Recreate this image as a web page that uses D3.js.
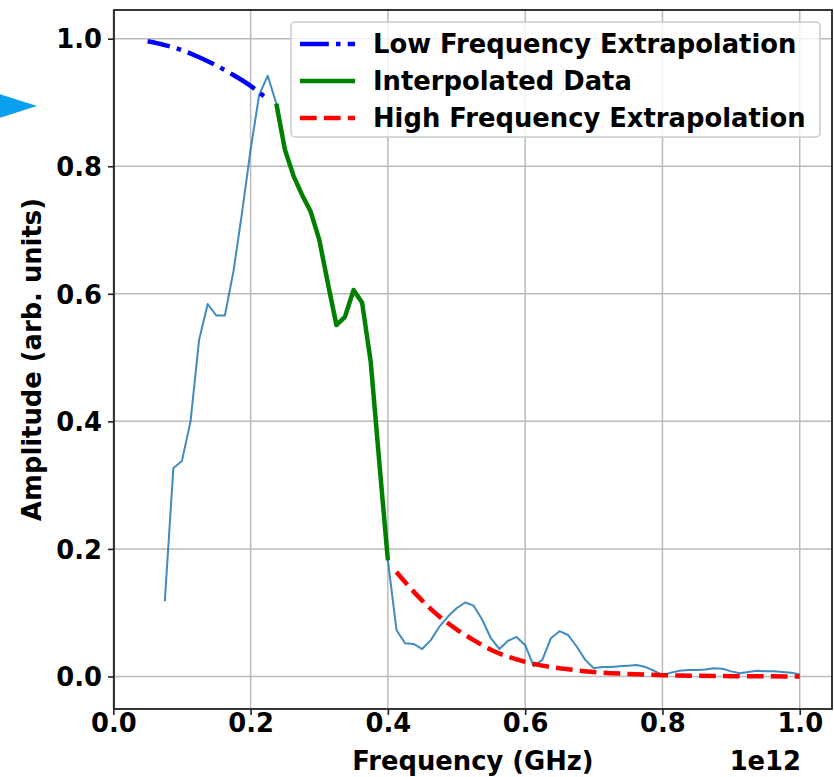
<!DOCTYPE html>
<html>
<head>
<meta charset="utf-8">
<title>Amplitude vs Frequency</title>
<script src="https://cdn.jsdelivr.net/npm/d3@7"></script>
<style>
  body { margin: 0; background: #fff; }
  svg { display: block; font-family: "DejaVu Sans", sans-serif; font-weight: bold; }
</style>
</head>
<body>
<div id="container"></div>
<script>
// frequencies are in units of 1e12 Hz (shown with the "1e12" offset label)
var measFreq = [0.075, 0.0875, 0.1, 0.1125, 0.125, 0.1375, 0.15, 0.1625, 0.175, 0.1875,
                0.2, 0.2125, 0.225, 0.2375, 0.25, 0.2625, 0.275, 0.2875, 0.3, 0.3125,
                0.325, 0.3375, 0.35, 0.3625, 0.375, 0.3875, 0.4, 0.4125, 0.425, 0.4375,
                0.45, 0.4625, 0.475, 0.4875, 0.5, 0.5125, 0.525, 0.5375, 0.55, 0.5625,
                0.575, 0.5875, 0.6, 0.6125, 0.625, 0.6375, 0.65, 0.6625, 0.675, 0.6875,
                0.7, 0.7125, 0.725, 0.7375, 0.75, 0.7625, 0.775, 0.7875, 0.8, 0.8125,
                0.825, 0.8375, 0.85, 0.8625, 0.875, 0.8875, 0.9, 0.9125, 0.925, 0.9375,
                0.95, 0.9625, 0.975, 0.9875, 1.0]
var measAmp = [0.118, 0.327, 0.338, 0.400, 0.528, 0.584, 0.566, 0.566, 0.635, 0.727,
               0.826, 0.912, 0.942, 0.898, 0.826, 0.785, 0.755, 0.729, 0.685, 0.617,
               0.551, 0.564, 0.606, 0.586, 0.493, 0.336, 0.182, 0.073, 0.052, 0.051,
               0.043, 0.057, 0.078, 0.094, 0.107, 0.116, 0.111, 0.089, 0.060, 0.043,
               0.056, 0.062, 0.049, 0.016, 0.026, 0.060, 0.071, 0.065, 0.047, 0.026,
               0.013, 0.015, 0.015, 0.016, 0.017, 0.018, 0.015, 0.009, 0.002, 0.006,
               0.009, 0.010, 0.010, 0.011, 0.013, 0.012, 0.008, 0.005, 0.007, 0.009,
               0.008, 0.008, 0.007, 0.006, 0.003]

var lowFreq = [0.05, 0.075, 0.1, 0.125, 0.15, 0.175, 0.2, 0.2225]
var lowAmp  = [0.996, 0.990, 0.982, 0.971, 0.958, 0.943, 0.926, 0.907]

var interpFreq = [0.2375, 0.25, 0.2625, 0.275, 0.2875, 0.3, 0.3125, 0.325, 0.3375,
                  0.35, 0.3625, 0.375, 0.3875, 0.4]
var interpAmp  = [0.898, 0.826, 0.785, 0.755, 0.729, 0.685, 0.617, 0.551, 0.564,
                  0.606, 0.586, 0.493, 0.336, 0.182]

var highFreq = [0.4125, 0.425, 0.45, 0.475, 0.5, 0.525, 0.55, 0.575, 0.6, 0.625,
                0.65, 0.7, 0.75, 0.8, 0.85, 0.9, 0.95, 1.0]
var highAmp  = [0.164, 0.148, 0.119, 0.094, 0.074, 0.057, 0.042, 0.031, 0.023, 0.017,
                0.013, 0.007, 0.004, 0.002, 0.001, 0.0005, 0.0002, 0.0]

var xTicks = [0.0, 0.2, 0.4, 0.6, 0.8, 1.0]
var yTicks = [0.0, 0.2, 0.4, 0.6, 0.8, 1.0]
var legendLabels = ["Low Frequency Extrapolation", "Interpolated Data", "High Frequency Extrapolation"]

var W = 834, H = 777
var mLeft = 114, mRight = 832, mTop = 10, mBottom = 709
var fs = 25.8

var svg = d3.select("#container").append("svg")
    .attr("width", W).attr("height", H)

var x = d3.scaleLinear().domain([0.001, 1.047]).range([mLeft, mRight])
var y = d3.scaleLinear().domain([-0.051, 1.045]).range([mBottom, mTop])

function pts(f, a) { return f.map(function(d, i) { return [d, a[i]] }) }

// decorative pointer at left edge
svg.append("path")
    .attr("d", "M-10,91L37,106L-10,121Z")
    .attr("fill", "#0b9ff0")

svg.append("clipPath").attr("id", "plot")
  .append("rect").attr("x", mLeft).attr("y", mTop)
    .attr("width", mRight - mLeft).attr("height", mBottom - mTop)

// grid
var grid = svg.append("g").attr("stroke", "#b0b0b0").attr("stroke-width", 1.5).attr("opacity", 0.85)
grid.selectAll(".gx").data(xTicks).enter().append("line")
    .attr("x1", function(d) { return x(d) }).attr("x2", function(d) { return x(d) })
    .attr("y1", mTop).attr("y2", mBottom)
grid.selectAll(".gy").data(yTicks).enter().append("line")
    .attr("y1", function(d) { return y(d) }).attr("y2", function(d) { return y(d) })
    .attr("x1", mLeft).attr("x2", mRight)

var line = d3.line().x(function(d) { return x(d[0]) }).y(function(d) { return y(d[1]) })
var smooth = d3.line().curve(d3.curveMonotoneX)
    .x(function(d) { return x(d[0]) }).y(function(d) { return y(d[1]) })

var plot = svg.append("g").attr("clip-path", "url(#plot)").attr("fill", "none")

plot.append("path").attr("d", line(pts(measFreq, measAmp)))
    .attr("stroke", "#1f77b4").attr("stroke-opacity", 0.85).attr("stroke-width", 2)
    .attr("stroke-linejoin", "round")

var styles = [
  { color: "#0000ff", dash: "28.8,7.2,4.5,7.2" },
  { color: "#008000", dash: null },
  { color: "#ff0000", dash: "16.7,7.2" }
]

plot.append("path").attr("d", smooth(pts(lowFreq, lowAmp)))
    .attr("stroke", styles[0].color).attr("stroke-width", 4.5)
    .attr("stroke-dasharray", styles[0].dash).attr("stroke-dashoffset", 6)
plot.append("path").attr("d", line(pts(interpFreq, interpAmp)))
    .attr("stroke", styles[1].color).attr("stroke-width", 4.5)
    .attr("stroke-linejoin", "round")
plot.append("path").attr("d", smooth(pts(highFreq, highAmp)))
    .attr("stroke", styles[2].color).attr("stroke-width", 4.5)
    .attr("stroke-dasharray", styles[2].dash)

// axes
var xAxis = svg.append("g").attr("transform", "translate(0," + mBottom + ")")
    .call(d3.axisBottom(x).tickValues(xTicks).tickFormat(d3.format(".1f")).tickSize(6).tickSizeOuter(0))
xAxis.select(".domain").remove()
xAxis.selectAll("line").attr("stroke", "#222").attr("stroke-width", 1.6)
xAxis.selectAll("text").attr("y", 23).attr("dy", 0)
    .attr("font-size", fs).attr("font-family", "DejaVu Sans").attr("font-weight", "bold").attr("fill", "#000")

var yAxis = svg.append("g").attr("transform", "translate(" + mLeft + ",0)")
    .call(d3.axisLeft(y).tickValues(yTicks).tickFormat(d3.format(".1f")).tickSize(6).tickSizeOuter(0))
yAxis.select(".domain").remove()
yAxis.selectAll("line").attr("stroke", "#222").attr("stroke-width", 1.6)
yAxis.selectAll("text").attr("x", -12).attr("dy", "0.36em")
    .attr("font-size", fs).attr("font-family", "DejaVu Sans").attr("font-weight", "bold").attr("fill", "#000")

// spines
svg.append("rect").attr("x", mLeft).attr("y", mTop)
    .attr("width", mRight - mLeft).attr("height", mBottom - mTop)
    .attr("fill", "none").attr("stroke", "#222").attr("stroke-width", 1.8)

// labels
svg.append("text").attr("x", (mLeft + mRight) / 2).attr("y", 770)
    .attr("text-anchor", "middle").attr("font-size", fs).text("Frequency (GHz)")
svg.append("text").attr("x", 801).attr("y", 770)
    .attr("text-anchor", "end").attr("font-size", fs).text("1e12")
svg.append("text").attr("transform", "translate(41," + (mTop + mBottom) / 2 + ") rotate(-90)")
    .attr("text-anchor", "middle").attr("font-size", fs).text("Amplitude (arb. units)")

// legend
var lg = svg.append("g")
lg.append("rect").attr("x", 291).attr("y", 22).attr("width", 529).attr("height", 115).attr("rx", 4)
    .attr("fill", "#fff").attr("fill-opacity", 0.8).attr("stroke", "#cccccc").attr("stroke-width", 1.5)
var row = lg.selectAll(".row").data(legendLabels).enter().append("g")
    .attr("transform", function(d, i) { return "translate(0," + (44 + i * 37) + ")" })
row.append("line").attr("x1", 300).attr("x2", 355)
    .attr("stroke", function(d, i) { return styles[i].color })
    .attr("stroke-width", 4.5)
    .attr("stroke-dasharray", function(d, i) { return styles[i].dash })
row.append("text").attr("x", 373).attr("dy", "0.36em").attr("font-size", fs)
    .text(function(d) { return d })
</script>
</body>
</html>
